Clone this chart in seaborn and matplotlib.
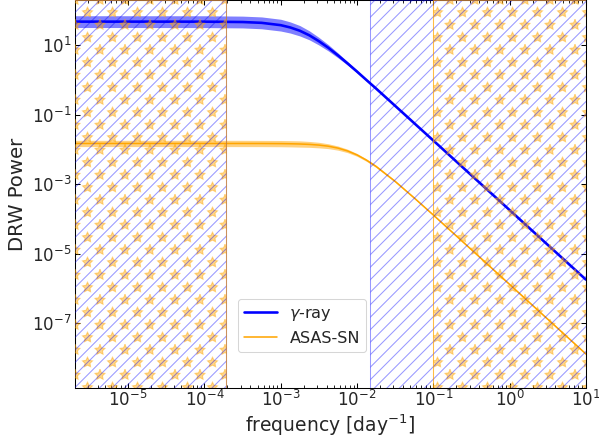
import numpy as np
import matplotlib
matplotlib.use("Agg")
import matplotlib.pyplot as plt
import matplotlib.hatch as mhatch
from matplotlib.path import Path
import seaborn as sns
import pandas as pd

# ---- data ----
freq = [1e-6, 1e-5, 1e-4, 3.16e-4, 5.62e-4, 1e-3, 1.33e-3, 1.78e-3, 2.37e-3,
        3.16e-3, 4.22e-3, 5.62e-3, 7.5e-3, 1e-2, 1.33e-2, 1.78e-2, 3.16e-2,
        5.62e-2, 0.1, 0.316, 1.0, 3.16, 10.0]

gamma_psd = [47.0, 47.0, 46.9, 45.8, 43.4, 37.2, 32.0, 25.7, 19.0, 12.9, 8.27,
             5.04, 2.97, 1.72, 0.983, 0.558, 0.178, 0.0564, 0.0179, 1.79e-3,
             1.79e-4, 1.79e-5, 1.79e-6]
gamma_hi = [69.5, 69.5, 69.4, 67.7, 64.2, 55.0, 46.2, 36.3, 25.6, 16.6, 10.2,
            5.92, 3.33, 1.89, 1.054, 0.598, 0.186, 0.0591, 0.0187, 1.87e-3,
            1.87e-4, 1.87e-5, 1.87e-6]
gamma_lo = [31.8, 31.8, 31.7, 31.0, 29.3, 25.2, 22.1, 18.2, 14.1, 10.0, 6.72,
            4.29, 2.65, 1.57, 0.917, 0.521, 0.170, 0.0539, 0.0171, 1.71e-3,
            1.71e-4, 1.71e-5, 1.71e-6]

asas_psd = [0.0147, 0.0147, 0.0147, 0.01468, 0.01465, 0.01454, 0.01441, 0.01419,
            0.01382, 0.01321, 0.01224, 0.01082, 0.00898, 0.00689, 0.00488,
            0.00321, 0.001195, 3.99e-4, 1.29e-4, 1.30e-5, 1.30e-6, 1.30e-7, 1.30e-8]
asas_hi = [0.0181, 0.0181, 0.0181, 0.0181, 0.0180, 0.0179, 0.0177, 0.01746,
           0.01681, 0.01588, 0.01438, 0.01242, 0.01008, 0.00755, 0.00529,
           0.00344, 0.001266, 4.18e-4, 1.35e-4, 1.36e-5, 1.36e-6, 1.36e-7, 1.36e-8]
asas_lo = [0.01195, 0.01195, 0.01195, 0.01193, 0.01191, 0.01182, 0.01171, 0.01154,
           0.01137, 0.01099, 0.01042, 0.00943, 0.00800, 0.00629, 0.00450,
           0.00299, 0.001128, 3.81e-4, 1.23e-4, 1.24e-5, 1.24e-6, 1.24e-7, 1.24e-8]

series_labels = [r"$\gamma$-ray", "ASAS-SN"]
series_colors = ["blue", "orange"]

# excluded frequency ranges (outside sampled range)
gamma_low_cut, gamma_high_cut = 1.9e-4, 0.015
asas_low_cut, asas_high_cut = 1.9e-4, 0.1
f_min_span, f_max = 1e-7, 10.0

xlim = (2.0e-6, 10.0)
ylim = (1.35e-9, 197.0)


# ---- sparser star hatch (stars every other column, staggered rows) ----
class SparseStars(mhatch.HatchPatternBase):
    size = 0.42

    def __init__(self, hatch, density):
        self.n = hatch.count('*') * density
        star = Path.unit_regular_star(5)
        self.shape_vertices = star.vertices
        self.shape_codes = np.full(len(star.vertices), Path.LINETO,
                                   dtype=Path.code_type)
        self.shape_codes[0] = Path.MOVETO
        self.centers = []
        if self.n:
            n = self.n
            for row in range(n + 1):
                start = 0 if row % 2 == 0 else 1
                for col in range(start, n + 1, 2):
                    self.centers.append((col / n, row / n))
        self.num_vertices = len(self.centers) * len(self.shape_vertices)

    def set_vertices_and_codes(self, vertices, codes):
        if not self.centers:
            return
        shape = self.shape_vertices * (1.0 / self.n) * self.size
        k = len(shape)
        for i, (cx, cy) in enumerate(self.centers):
            vertices[i * k:(i + 1) * k] = shape + [cx, cy]
            codes[i * k:(i + 1) * k] = self.shape_codes


mhatch._hatch_types[:] = [t for t in mhatch._hatch_types
                          if t is not mhatch.Stars] + [SparseStars]

# ---- plotting ----
sns.set_theme(style="ticks")
plt.rcParams["font.family"] = ["DejaVu Sans"]
plt.rcParams["xtick.direction"] = "in"
plt.rcParams["ytick.direction"] = "in"
plt.rcParams["xtick.top"] = True
plt.rcParams["ytick.right"] = True
plt.rcParams["hatch.linewidth"] = 1.0

DPI = 75
fig, ax = plt.subplots(figsize=(599 / DPI, 442 / DPI), dpi=DPI)
fig.subplots_adjust(left=0.125, right=0.978, bottom=0.122, top=1.0)

df = pd.DataFrame({
    "freq": freq * 2,
    "psd": gamma_psd + asas_psd,
    "series": [series_labels[0]] * len(freq) + [series_labels[1]] * len(freq),
})

ax.fill_between(freq, gamma_lo, gamma_hi, color=series_colors[0], alpha=0.5, lw=0)
ax.fill_between(freq, asas_lo, asas_hi, color=series_colors[1], alpha=0.5, lw=0)

sns.lineplot(data=df[df.series == series_labels[0]], x="freq", y="psd",
             color=series_colors[0], lw=2.5, label=series_labels[0], ax=ax)
sns.lineplot(data=df[df.series == series_labels[1]], x="freq", y="psd",
             color=series_colors[1], lw=1.5, label=series_labels[1], ax=ax)

# hatched excluded regions
for lo, hi in [(f_min_span, asas_low_cut), (asas_high_cut, f_max)]:
    ax.axvspan(lo, hi, facecolor="none", edgecolor="orange", hatch="*",
               alpha=0.45, zorder=3, lw=1.0)
for lo, hi in [(f_min_span, gamma_low_cut), (gamma_high_cut, f_max)]:
    ax.axvspan(lo, hi, facecolor="none", edgecolor="blue", hatch="//",
               alpha=0.4, zorder=3.1, lw=1.0)
# orange outlines on top of the blue ones
for lo, hi in [(f_min_span, asas_low_cut), (asas_high_cut, f_max)]:
    ax.axvspan(lo, hi, facecolor="none", edgecolor="orange",
               alpha=0.5, zorder=3.2, lw=1.0)

ax.set_xscale("log")
ax.set_yscale("log")
ax.set_xlim(*xlim)
ax.set_ylim(*ylim)
ax.set_yticks([1e1, 1e-1, 1e-3, 1e-5, 1e-7])
ax.set_xticks([1e-5, 1e-4, 1e-3, 1e-2, 1e-1, 1e0, 1e1])
ax.yaxis.set_minor_locator(matplotlib.ticker.NullLocator())
ax.xaxis.set_minor_locator(matplotlib.ticker.LogLocator(base=10, subs=np.arange(2, 10)))
ax.tick_params(axis="both", which="major", labelsize=16, length=5, width=1, color="black")
ax.tick_params(axis="x", which="major", pad=2)
ax.tick_params(axis="both", which="minor", length=3, width=0.8, color="black")
for s in ax.spines.values():
    s.set_color("black")
    s.set_linewidth(1.0)

ax.set_xlabel(r"frequency [day$^{-1}$]", fontsize=18, labelpad=2)
ax.set_ylabel("DRW Power", fontsize=19)

ax.legend(loc="lower left", bbox_to_anchor=(0.303, 0.072), fontsize=15.5,
          frameon=True, framealpha=0.8, edgecolor="#cccccc", fancybox=True)

fig.savefig("out.png", dpi=DPI)
